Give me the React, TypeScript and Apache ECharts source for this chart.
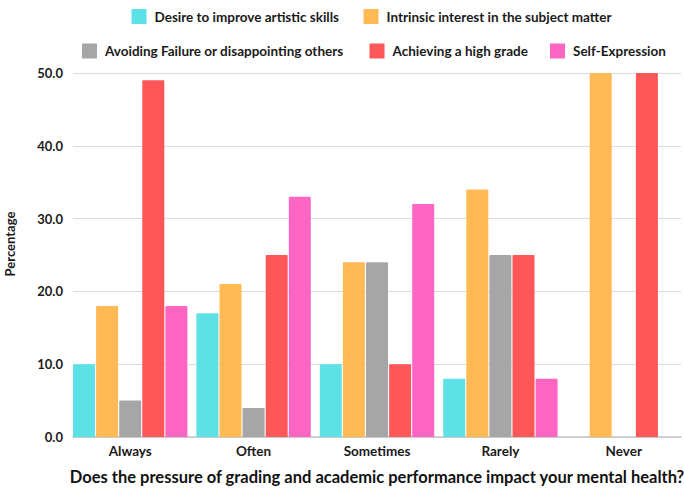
import React, { useEffect, useRef } from "react";
import * as echarts from "echarts";

const categories = ["Always", "Often", "Sometimes", "Rarely", "Never"];
const seriesNames = [
  "Desire to improve artistic skills",
  "Intrinsic interest in the subject matter",
  "Avoiding Failure or disappointing others",
  "Achieving a high grade",
  "Self-Expression",
];
const desireArtistic = [10, 17, 10, 8, 0];
const intrinsicInterest = [18, 21, 24, 34, 50];
const avoidingFailure = [5, 4, 24, 25, 0];
const highGrade = [49, 25, 10, 25, 50];
const selfExpression = [18, 33, 32, 8, 0];
const colors = ["#5CE1E6", "#FFB955", "#A6A6A6", "#FF5757", "#FF66C4"];
const yTicks = [0, 10, 20, 30, 40, 50];
const legendLefts = [131.5, 363.5, 82, 369.5, 550];
const legendTops = [9, 9, 43.5, 43.5, 43.5];

const FONT = "Lato, 'Noto Sans', sans-serif";

export default function App() {
  const ref = useRef<HTMLDivElement>(null);
  useEffect(() => {
    document.body.style.margin = "0";
    const chart = echarts.init(ref.current!, null, { renderer: "svg" });
    const values = [desireArtistic, intrinsicInterest, avoidingFailure, highGrade, selfExpression];
    const series = values.map((v, i) => ({
      name: seriesNames[i],
      type: "bar",
      xAxisIndex: 1,
      yAxisIndex: 1,
      data: v,
      barWidth: 22,
      barGap: "5%",
      itemStyle: { color: colors[i], borderRadius: [1, 1, 0, 0] },
    }));
    const legends = seriesNames.map((n, i) => ({
      data: [n],
      left: legendLefts[i],
      top: legendTops[i],
      padding: 0,
      itemWidth: 15,
      itemHeight: 15,
      icon: "rect",
      textStyle: {
        fontFamily: FONT,
        fontSize: 13.5,
        fontWeight: "bold",
        color: "#1a1a1a",
        padding: [0, 0, 0, 3],
      },
    }));
    chart.setOption({
      animation: false,
      textStyle: { fontFamily: FONT },
      legend: legends,
      grid: [
        { left: 73, width: 608, top: 73, bottom: 56, outerBoundsMode: "none", containLabel: false },
        { left: 68.5, width: 617, top: 73, bottom: 56, outerBoundsMode: "none", containLabel: false },
      ],
      xAxis: [
        {
          type: "category",
          gridIndex: 0,
          data: categories,
          axisLine: { show: true, lineStyle: { color: "#c4c4c4", width: 1.5 } },
          axisTick: { show: false },
          axisLabel: { show: false },
        },
        {
          type: "category",
          gridIndex: 1,
          data: categories,
          axisLine: { show: false },
          axisTick: { show: false },
          axisLabel: {
            margin: 7,
            fontFamily: FONT,
            fontSize: 13.5,
            fontWeight: "bold",
            color: "#1a1a1a",
          },
          name: "Does the pressure of grading and academic performance impact your mental health?",
          nameLocation: "middle",
          nameGap: 31,
          nameTextStyle: { fontFamily: FONT, fontSize: 16.5, fontWeight: "bold", color: "#111" },
        },
      ],
      yAxis: [
        {
          type: "value",
          gridIndex: 0,
          min: yTicks[0],
          max: yTicks[yTicks.length - 1],
          interval: 10,
          axisLine: { show: false },
          axisTick: { show: false },
          splitLine: { lineStyle: { color: "#dcdcdc", width: 1 } },
          axisLabel: {
            margin: 10,
            formatter: (v: number) => v.toFixed(1),
            fontFamily: FONT,
            fontSize: 13,
            fontWeight: "bold",
            color: "#1a1a1a",
          },
        },
        {
          type: "value",
          gridIndex: 1,
          min: 0,
          max: 50,
          interval: 10,
          show: false,
          splitLine: { show: false },
        },
      ],
      graphic: [
        {
          type: "text",
          x: 10,
          y: 244,
          rotation: Math.PI / 2,
          style: {
            text: "Percentage",
            fontFamily: FONT,
            fontSize: 13,
            fontWeight: "bold",
            fill: "#1a1a1a",
            textAlign: "center",
            textVerticalAlign: "middle",
          },
        },
      ],
      series,
    });
    return () => chart.dispose();
  }, []);
  return (
    <div
      ref={ref}
      style={{ position: "absolute", left: 0, top: 0, width: 684, height: 493, background: "#fff" }}
    />
  );
}
